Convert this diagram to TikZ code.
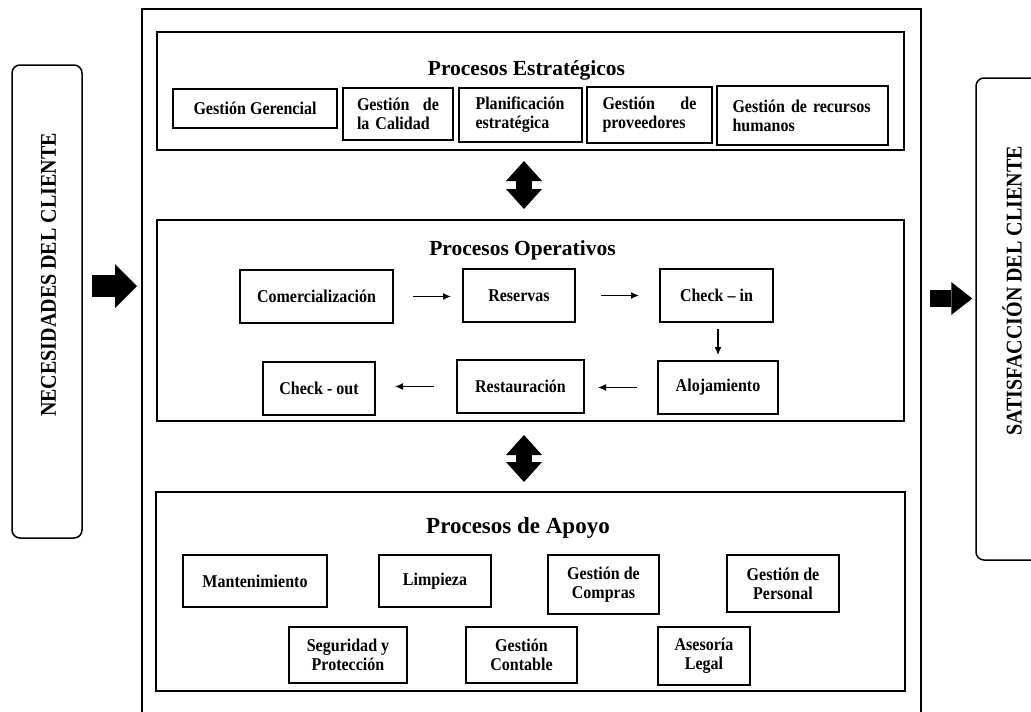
\documentclass[tikz,border=0pt]{standalone}
\usepackage{fontspec}
\setmainfont{Liberation Serif}
\newfontfamily\narrowserif[FakeStretch=0.89]{Liberation Serif}
\usetikzlibrary{arrows.meta,calc}

\begin{document}
\begin{tikzpicture}[x=1pt,y=-1pt,
  section/.style={draw, line width=2pt, inner sep=0pt},
  sectitle/.style={font=\fontsize{21.5}{24}\selectfont\bfseries, anchor=base, inner sep=0pt},
  pbox/.style={draw, line width=2pt, inner sep=0pt, align=center,
    font=\narrowserif\fontsize{18}{19}\selectfont\bfseries},
  roundbox/.style={draw, line width=1.5pt, rounded corners=8pt, inner sep=0pt},
  vtext/.style={rotate=90, inner sep=0pt, font=\narrowserif\fontsize{22.5}{26}\selectfont\bfseries},
  flow/.style={line width=1.2pt, -{Latex[length=8pt,width=7pt]}},
  twoway/.style={line width=16pt,
    {Triangle[length=20pt,width=36pt,line width=0pt]}-{Triangle[length=20pt,width=36pt,line width=0pt]}},
  bigin/.style={line width=22pt, -{Triangle[length=22pt,width=44pt,line width=0pt]}},
  bigout/.style={line width=17pt, -{Triangle[length=21pt,width=33pt,line width=0pt]}}
]
\useasboundingbox (0,0) rectangle (1031,712);
\clip (0,0) rectangle (1031,712);

% outer frame holding the three process groups
\node[draw, line width=1.8pt, anchor=north west, minimum width=779pt,
      minimum height=760pt, inner sep=0pt] (frame) at (141,8) {};

% strategic processes
\node[section, minimum width=747pt, minimum height=118pt] (strat) at (530.5,91) {};
\node[sectitle] (stratT) at (526.5,75) {Procesos Estratégicos};
\node[pbox, minimum width=164pt, minimum height=39pt] (gg) at (255,108.5) {Gestión Gerencial};
\node[pbox, minimum width=110pt, minimum height=52pt, text width=82pt, align=left]
  (gc) at (398,114) {Gestión\hfill de\\la Calidad};
\node[pbox, minimum width=123pt, minimum height=54pt, text width=90pt, align=left]
  (pe) at (520.5,115) {Planificación\\estratégica};
\node[pbox, minimum width=125pt, minimum height=56pt, text width=94pt, align=left]
  (gp) at (649.5,115) {Gestión\hfill de\\proveedores};
\node[pbox, minimum width=171pt, minimum height=59pt, text width=140pt, align=left]
  (gr) at (802.5,115.5) {Gestión de recursos\\humanos};

% operative processes
\node[section, minimum width=747pt, minimum height=201pt] (oper) at (530.5,320.5) {};
\node[sectitle] (operT) at (522.5,255) {Procesos Operativos};
\node[pbox, minimum width=153pt, minimum height=53pt] (com) at (316.5,296.5) {Comercialización};
\node[pbox, minimum width=112pt, minimum height=53pt] (res) at (519,295.5) {Reservas};
\node[pbox, minimum width=113pt, minimum height=53pt] (cin) at (716.5,295.5) {Check – in};
\node[pbox, minimum width=120pt, minimum height=53pt] (alo) at (718,387.5) {Alojamiento};
\node[pbox, minimum width=127pt, minimum height=53pt] (rest) at (520.5,386.5) {Restauración};
\node[pbox, minimum width=112pt, minimum height=53pt] (cout) at (319,388.5) {Check - out};

\coordinate (cinS) at ($(cin.south)+(1.5,0)$);
\draw[flow, shorten <=19pt, shorten >=11pt] (com.east) -- (com.east -| res.west);
\draw[flow, shorten <=25pt, shorten >=20pt] (res.east) -- (res.east -| cin.west);
\draw[flow, shorten <=6pt, shorten >=5pt] (cinS) -- (cinS |- alo.north);
\draw[flow, shorten <=20pt, shorten >=13pt] (alo.west) -- (alo.west -| rest.east);
\draw[flow, shorten <=22pt, shorten >=19pt] (rest.west) -- (rest.west -| cout.east);

% support processes
\node[section, minimum width=749pt, minimum height=199pt] (apoyo) at (530.5,591.5) {};
\node[sectitle, font=\fontsize{23}{26}\selectfont\bfseries] (apoyoT) at (518,533) {Procesos de Apoyo};
\node[pbox, minimum width=144pt, minimum height=52pt] (mant) at (255,581) {Mantenimiento};
\node[pbox, minimum width=112pt, minimum height=52pt] (limp) at (435,581) {Limpieza};
\node[pbox, minimum width=111pt, minimum height=59pt] (gco) at (603.5,584.5) {Gestión de\\Compras};
\node[pbox, minimum width=112pt, minimum height=57pt] (gpe) at (783,583.5) {Gestión de\\Personal};
\node[pbox, minimum width=118pt, minimum height=56pt] (seg) at (348,655) {Seguridad y\\Protección};
\node[pbox, minimum width=111pt, minimum height=56pt] (gct) at (521.5,655) {Gestión\\Contable};
\node[pbox, minimum width=92pt, minimum height=58pt] (ase) at (704,656) {Asesoría\\Legal};

% links between the groups
\draw[twoway] ($(strat.south)+(-6.5,10)$) -- ($(oper.north)+(-6.5,-10)$);
\draw[twoway] ($(oper.south)+(-6.5,13)$) -- ($(apoyo.north)+(-6.5,-9)$);

% customer needs and satisfaction
\node[roundbox, minimum width=70pt, minimum height=473pt] (needs) at (47,301.5) {};
\node[vtext] (needsT) at (48.5,275) {NECESIDADES DEL CLIENTE};
\node[roundbox, minimum width=69pt, minimum height=482pt] (satis) at (1010.5,319) {};
\node[vtext] (satisT) at (1012,291) {SATISFACCIÓN DEL CLIENTE};

\coordinate (inStart) at ($(needs.east)+(9,-15.5)$);
\draw[bigin] (inStart) -- ([xshift=-4pt]inStart -| frame.west);
\coordinate (outStart) at ($(frame.east |- 0,298.5)+(8,0)$);
\draw[bigout] (outStart) -- ([xshift=-3pt]outStart -| satis.west);
\end{tikzpicture}
\end{document}
